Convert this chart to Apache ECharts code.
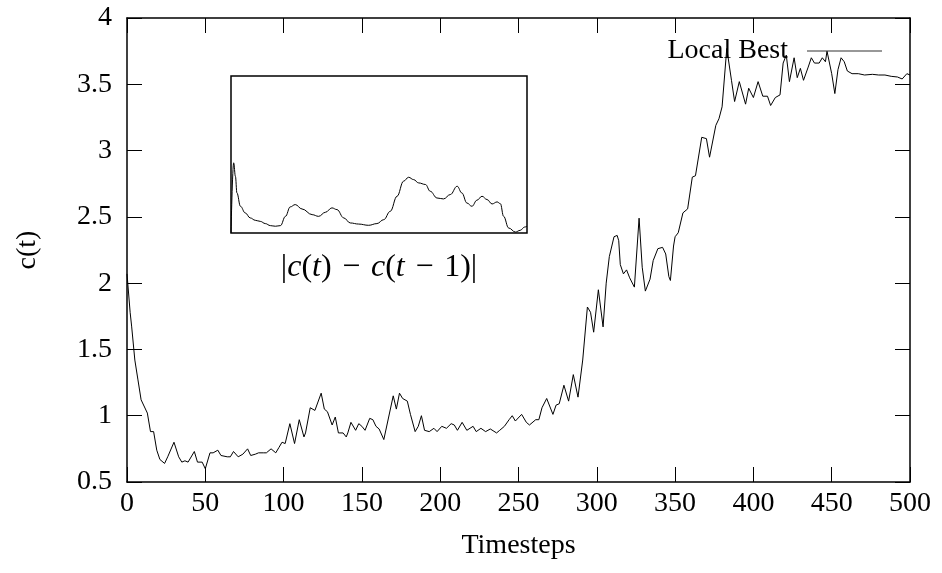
<!DOCTYPE html>
<html>
<head>
<meta charset="utf-8">
<title>Local Best</title>
<script src="https://cdn.jsdelivr.net/npm/echarts@6/dist/echarts.min.js"></script>
<style>
  html, body { margin: 0; padding: 0; background: #fff; }
  #echarts_box { width: 942px; height: 573px; }
</style>
</head>
<body>
<div id="echarts_box"></div>
<script>
// 主曲线数据 (timestep, c(t))
var steps = [0, 2, 3, 5, 7, 9, 13, 15, 17, 19, 21, 24, 26, 30, 33, 35, 37, 39, 43, 45, 48, 50,
  53, 55, 58, 60, 64, 66, 68, 71, 74, 77, 79, 82, 84, 87, 89, 92, 95, 97, 99, 101, 104, 107,
  110, 113, 114, 117, 120, 124, 126, 128, 131, 133, 135, 138, 140, 141, 143, 146, 148, 150,
  152, 155, 157, 159, 161, 164, 170, 172, 174, 176, 179, 181, 184, 186, 188, 190, 193, 196,
  198, 201, 204, 207, 209, 211, 214, 217, 221, 223, 226, 229, 232, 236, 238, 241, 244, 246,
  248, 252, 255, 257, 261, 263, 265, 268, 272, 274, 276, 279, 282, 285, 288, 291, 294, 296,
  298, 301, 304, 306, 308, 311, 313, 314, 315, 317, 319, 321, 324, 327, 329, 331, 334, 336,
  339, 342, 344, 346, 347, 349, 350, 352, 355, 358, 361, 363, 364, 367, 370, 371, 372, 373,
  376, 378, 380, 383, 386, 388, 391, 395, 397, 400, 403, 406, 409, 411, 414, 417, 419, 421,
  423, 426, 428, 430, 432, 435, 437, 439, 442, 444, 446, 447, 450, 452, 454, 456, 458, 460,
  463, 467, 471, 476, 480, 484, 488, 492, 493, 495, 498, 500];
var localBest = [2.07, 1.78, 1.67, 1.42, 1.27, 1.12, 1.02, 0.88, 0.88, 0.74, 0.67, 0.64, 0.69,
  0.80, 0.69, 0.65, 0.66, 0.65, 0.73, 0.65, 0.65, 0.60, 0.72, 0.72, 0.74, 0.70, 0.69, 0.69,
  0.73, 0.69, 0.71, 0.75, 0.70, 0.71, 0.72, 0.72, 0.72, 0.75, 0.72, 0.76, 0.80, 0.79, 0.94,
  0.79, 0.97, 0.84, 0.87, 1.06, 1.04, 1.17, 1.05, 1.03, 0.93, 0.99, 0.87, 0.87, 0.84, 0.87,
  0.95, 0.89, 0.94, 0.92, 0.89, 0.98, 0.97, 0.92, 0.90, 0.82, 1.15, 1.05, 1.17, 1.13, 1.11,
  1.01, 0.88, 0.92, 1.00, 0.89, 0.88, 0.905, 0.88, 0.92, 0.905, 0.94, 0.93, 0.89, 0.95, 0.89,
  0.92, 0.88, 0.905, 0.88, 0.90, 0.87, 0.89, 0.92, 0.97, 1.00, 0.96, 1.01, 0.95, 0.93, 0.97,
  0.97, 1.06, 1.13, 1.01, 1.08, 1.09, 1.23, 1.11, 1.31, 1.14, 1.42, 1.82, 1.78, 1.63, 1.95,
  1.67, 2.00, 2.20, 2.35, 2.36, 2.32, 2.14, 2.07, 2.10, 2.04, 1.97, 2.49, 2.12, 1.94, 2.03,
  2.17, 2.26, 2.27, 2.22, 2.05, 2.02, 2.28, 2.35, 2.38, 2.53, 2.56, 2.80, 2.81, 2.80, 3.10,
  3.09, 3.08, 2.95, 2.95, 3.19, 3.24, 3.33, 3.77, 3.53, 3.37, 3.52, 3.35, 3.47, 3.40, 3.52,
  3.41, 3.41, 3.34, 3.40, 3.42, 3.66, 3.72, 3.52, 3.70, 3.55, 3.62, 3.53, 3.63, 3.70, 3.66,
  3.66, 3.70, 3.67, 3.75, 3.58, 3.43, 3.61, 3.70, 3.67, 3.60, 3.58, 3.58, 3.57, 3.575, 3.57,
  3.57, 3.56, 3.555, 3.57, 3.54, 3.58, 3.57];

// 小图 |c(t) - c(t-1)| (纵轴为相对高度 0~1)
var insetSteps = [0, 4.5, 7.5, 10, 16, 24, 32.5, 41, 49.5, 58, 66.5, 75, 83.5, 92, 100, 108.5,
  120, 137, 148, 159.5, 170.5, 179, 190.5, 201.5, 215.5, 232.5, 246.5, 258, 269, 280.5, 291.5,
  300, 308.5, 317, 328.5, 336.5, 348, 359, 370.5, 382, 390, 398.5, 407, 415.5, 424, 432.5, 441,
  449.5, 455, 460.5, 469, 480.5, 488.5, 496, 500];
var insetDiff = [0, 0.447, 0.36, 0.255, 0.17, 0.128, 0.096, 0.081, 0.074, 0.06, 0.047, 0.043,
  0.047, 0.106, 0.166, 0.181, 0.153, 0.117, 0.106, 0.132, 0.16, 0.149, 0.096, 0.064, 0.057,
  0.049, 0.06, 0.085, 0.138, 0.234, 0.33, 0.355, 0.34, 0.319, 0.309, 0.266, 0.223, 0.217,
  0.245, 0.298, 0.255, 0.191, 0.17, 0.209, 0.234, 0.213, 0.185, 0.198, 0.187, 0.106, 0.032,
  0.006, 0.017, 0.038, 0.043];

var xTicks = { min: 0, max: 500, interval: 50 };
var yTicks = { min: 0.5, max: 4, interval: 0.5 };

var font = "'Liberation Serif', 'DejaVu Serif', serif";
var axisLine = { show: true, onZero: false, lineStyle: { color: '#000', width: 1.5 } };
var tick = { show: true, inside: true, length: 15, lineStyle: { color: '#000', width: 1 } };

var myChart = echarts.init(document.getElementById('echarts_box'));
var option = {
  animation: false,
  backgroundColor: '#fff',
  legend: {
    data: [{ name: 'Local Best', icon: 'rect' }],
    right: 60,
    top: 37,
    padding: 0,
    align: 'right',
    itemWidth: 75,
    itemHeight: 1,
    itemStyle: { color: '#333' },
    textStyle: { fontFamily: font, fontSize: 28, color: '#000', padding: [0, 14, 0, 0] }
  },
  grid: [
    { left: 127, right: 32, top: 18, bottom: 91 },
    { left: 231, top: 76, width: 296, height: 157, show: true, borderColor: '#000', borderWidth: 1.5 }
  ],
  xAxis: [
    {
      type: 'value', gridIndex: 0, position: 'bottom',
      min: xTicks.min, max: xTicks.max, interval: xTicks.interval,
      name: 'Timesteps', nameLocation: 'middle', nameGap: 50,
      nameTextStyle: { fontFamily: font, fontSize: 28, color: '#000' },
      axisLine: axisLine, axisTick: tick, splitLine: { show: false },
      axisLabel: { fontFamily: font, fontSize: 28, color: '#000', margin: 8 }
    },
    {
      type: 'value', gridIndex: 0, position: 'top',
      min: xTicks.min, max: xTicks.max, interval: xTicks.interval,
      axisLine: axisLine, axisTick: tick, splitLine: { show: false },
      axisLabel: { show: false }
    },
    {
      type: 'value', gridIndex: 1, min: 0, max: 500,
      name: '{u||}{i|c}{u|(}{i|t}{u|)\u2004\u2212\u2004}{i|c}{u|(}{i|t}{u|\u2004\u2212\u20041)|}',
      nameLocation: 'middle', nameGap: 19,
      nameTextStyle: {
        color: '#000',
        rich: {
          u: { fontFamily: font, fontSize: 32, color: '#000' },
          i: { fontFamily: font, fontSize: 32, fontStyle: 'italic', color: '#000' }
        }
      },
      axisLine: { show: false }, axisTick: { show: false },
      axisLabel: { show: false }, splitLine: { show: false }
    }
  ],
  yAxis: [
    {
      type: 'value', gridIndex: 0, position: 'left',
      min: yTicks.min, max: yTicks.max, interval: yTicks.interval,
      name: 'c(t)', nameLocation: 'middle', nameGap: 85, nameRotate: 90,
      nameTextStyle: { fontFamily: font, fontSize: 28, color: '#000' },
      axisLine: axisLine, axisTick: tick, splitLine: { show: false },
      axisLabel: { fontFamily: font, fontSize: 28, color: '#000', margin: 15 }
    },
    {
      type: 'value', gridIndex: 0, position: 'right',
      min: yTicks.min, max: yTicks.max, interval: yTicks.interval,
      axisLine: axisLine, axisTick: tick, splitLine: { show: false },
      axisLabel: { show: false }
    },
    {
      type: 'value', gridIndex: 1, min: 0, max: 1,
      axisLine: { show: false }, axisTick: { show: false },
      axisLabel: { show: false }, splitLine: { show: false }
    }
  ],
  series: [
    {
      name: 'Local Best',
      type: 'line',
      xAxisIndex: 0, yAxisIndex: 0,
      symbol: 'none',
      lineStyle: { color: '#000', width: 1 },
      itemStyle: { color: '#000' },
      data: steps.map(function (t, i) { return [t, localBest[i]]; })
    },
    {
      name: 'diff',
      type: 'line',
      xAxisIndex: 2, yAxisIndex: 2,
      symbol: 'none',
      smooth: 0.4,
      smoothMonotone: 'x',
      lineStyle: { color: '#000', width: 1 },
      data: insetSteps.map(function (t, i) { return [t, insetDiff[i]]; })
    }
  ]
};
myChart.setOption(option);
</script>
</body>
</html>
